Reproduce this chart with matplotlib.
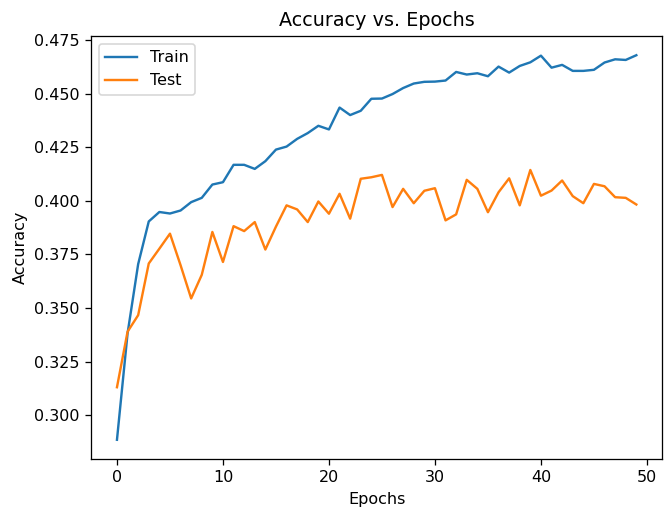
"""Training curve: train/test accuracy per epoch."""
import matplotlib

matplotlib.use("Agg")
import matplotlib.pyplot as plt  # noqa: E402
import numpy as np  # noqa: E402

epochs = np.arange(50)
train_acc = [0.2886, 0.3382, 0.3705, 0.3904, 0.3948, 0.3941, 0.3955, 0.3994, 0.4014, 0.4076,
             0.4087, 0.4168, 0.4168, 0.4149, 0.4185, 0.4239, 0.4253, 0.4289, 0.4316, 0.4350,
             0.4333, 0.4435, 0.4400, 0.4420, 0.4476, 0.4477, 0.4498, 0.4526, 0.4547, 0.4555,
             0.4556, 0.4561, 0.4601, 0.4589, 0.4595, 0.4581, 0.4626, 0.4598, 0.4629, 0.4646,
             0.4677, 0.4621, 0.4634, 0.4606, 0.4606, 0.4611, 0.4645, 0.4660, 0.4657, 0.4679]
test_acc = [0.3131, 0.3390, 0.3467, 0.3708, 0.3777, 0.3847, 0.3700, 0.3545, 0.3655, 0.3855,
            0.3715, 0.3882, 0.3859, 0.3901, 0.3773, 0.3880, 0.3979, 0.3960, 0.3901, 0.3997,
            0.3940, 0.4033, 0.3917, 0.4103, 0.4110, 0.4121, 0.3971, 0.4056, 0.3989, 0.4047,
            0.4059, 0.3909, 0.3937, 0.4098, 0.4056, 0.3947, 0.4040, 0.4105, 0.3979, 0.4144,
            0.4024, 0.4048, 0.4095, 0.4022, 0.3989, 0.4079, 0.4068, 0.4017, 0.4014, 0.3983]

fig = plt.figure(figsize=(665 / 115, 508 / 115), dpi=115)
ax = fig.add_axes([91 / 665, 1 - 459 / 508, (662.3 - 91) / 665, (459 - 36) / 508])
ax.plot(epochs, train_acc, label="Train")
ax.plot(epochs, test_acc, label="Test")
ax.set_title("Accuracy vs. Epochs")
ax.set_xlabel("Epochs")
ax.set_ylabel("Accuracy")
ax.legend(loc="upper left")
fig.savefig("out.png", dpi=115)
